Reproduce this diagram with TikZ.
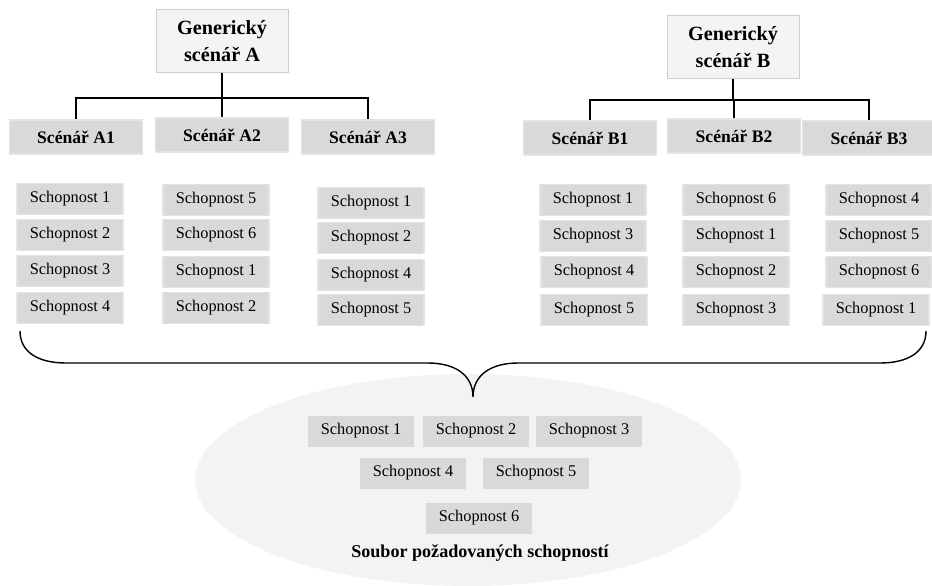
\documentclass[tikz,border=0pt]{standalone}
\usepackage{fontspec}
\setmainfont{Liberation Serif}
\definecolor{skillgray}{RGB}{217,217,217}
\definecolor{skillrim}{RGB}{228,228,228}
\definecolor{genfill}{RGB}{244,244,244}
\definecolor{genrim}{RGB}{205,205,205}
\definecolor{poolfill}{RGB}{243,243,243}
\begin{document}
\begin{tikzpicture}[x=0.02cm,y=-0.02cm,
	skill/.style={fill=skillgray,draw=skillrim,line width=0.6pt,minimum width=2.12cm,minimum height=0.62cm,inner sep=0pt,font=\fontsize{9.3}{11}\selectfont},
	scenbox/.style={fill=skillgray,draw=skillrim,line width=0.6pt,minimum width=2.66cm,minimum height=0.68cm,inner sep=0pt,font=\fontsize{10}{12}\selectfont\bfseries},
	genbox/.style={fill=genfill,draw=genrim,line width=0.5pt,minimum width=2.64cm,minimum height=1.26cm,inner sep=0pt,align=center,font=\fontsize{11.5}{15}\selectfont\bfseries},
	tree/.style={line width=0.9pt}]
\useasboundingbox (0,0) rectangle (932,585);
\fill[poolfill] (468,480) ellipse[x radius=5.46cm,y radius=2.12cm];
\node[genbox] (genA) at (222,41) {Generický\\scénář A};
\node[genbox] (genB) at (733,47) {Generický\\scénář B};
\node[scenbox] (scA1) at (76,137) {Scénář A1};
\node[scenbox] (scA2) at (222,135) {Scénář A2};
\node[scenbox] (scA3) at (368,137) {Scénář A3};
\node[scenbox] (scB1) at (590,138) {Scénář B1};
\node[scenbox] (scB2) at (734,136) {Scénář B2};
\node[scenbox] (scB3) at (869,138) {Scénář B3};
\draw[tree] (genA.south) -- (genA.south |- 0,98) coordinate (jA);
\draw[tree] (genB.south) -- (genB.south |- 0,100) coordinate (jB);
\foreach \s in {scA1,scA2,scA3}
	\draw[tree] (jA) -| (\s.north);
\foreach \s in {scB1,scB2,scB3}
	\draw[tree] (jB) -| (\s.north);
\foreach \n/\x/\y/\t in {a1/70/199/1,a2/70/235/2,a3/70/271/3,a4/70/308/4,
	b1/216/200/5,b2/216/235/6,b3/216/272/1,b4/216/308/2,
	c1/371/203/1,c2/371/238/2,c3/371/275/4,c4/371/310/5,
	d1/593/200/1,d2/593/236/3,d3/594/272/4,d4/594/310/5,
	e1/736/200/6,e2/736/236/1,e3/736/272/2,e4/736/310/3,
	f1/879/200/4,f2/879/236/5,f3/879/272/6,f4/876/310/1}
	\node[skill] (\n) at (\x,\y) {Schopnost \t};
\coordinate (braceL) at (20,331);
\coordinate (braceR) at (926,331);
\coordinate (braceTip) at (473,397);
\draw[line width=0.8pt] (braceL) .. controls (20,352) and (38,363) .. (66,363) -- (428,363)
	.. controls (455,363) and (473,375) .. (braceTip)
	.. controls (473,375) and (491,363) .. (518,363) -- (880,363)
	.. controls (908,363) and (926,352) .. (braceR);
\foreach \n/\x/\y/\t in {p1/361/431/1,p2/476/431/2,p3/589/431/3,p4/413/473/4,p5/536/473/5,p6/479/518/6}
	\node[skill,draw=none] (\n) at (\x,\y) {Schopnost \t};
\node[font=\fontsize{10.3}{12}\selectfont\bfseries] (pool) at (480,553) {Soubor požadovaných schopností};
\end{tikzpicture}
\end{document}
